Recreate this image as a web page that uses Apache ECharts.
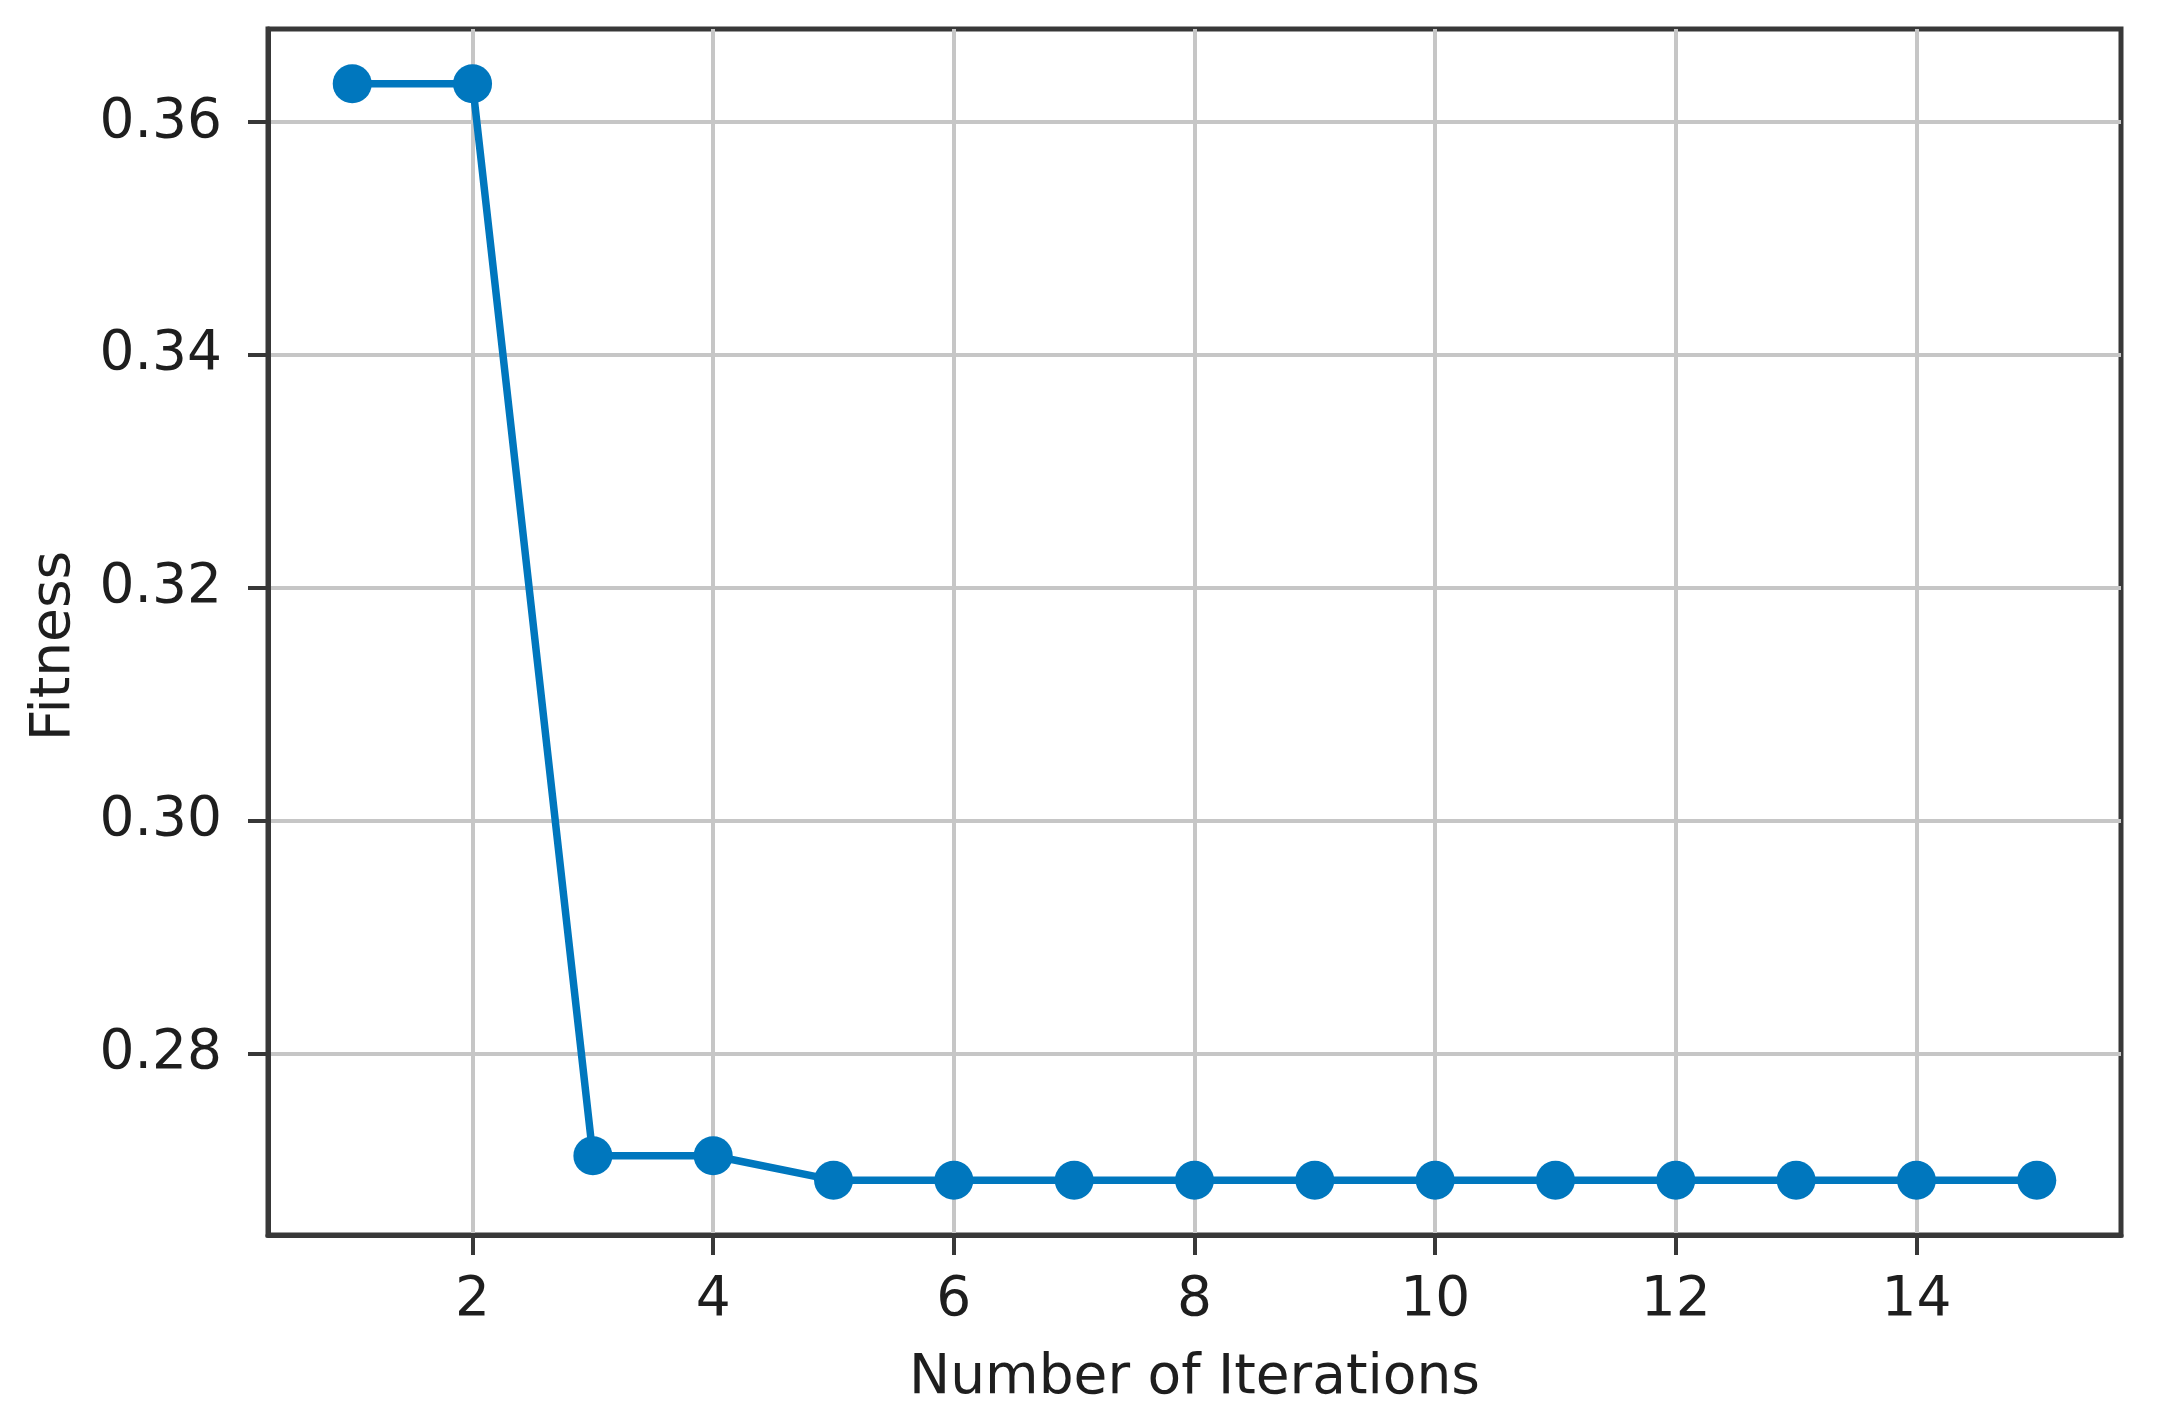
<!DOCTYPE html>
<html>
<head>
<meta charset="utf-8">
<script src="https://cdn.jsdelivr.net/npm/echarts@6/dist/echarts.min.js"></script>
<style>
html,body{margin:0;padding:0;background:#fff;}
#chart{width:2159px;height:1425px;}
</style>
</head>
<body>
<div id="chart"></div>
<script>
// Data
const iterations = [1,2,3,4,5,6,7,8,9,10,11,12,13,14,15];
const fitness = [0.3633,0.3633,0.2712,0.2712,0.2691,0.2691,0.2691,0.2691,0.2691,0.2691,0.2691,0.2691,0.2691,0.2691,0.2691];
const xTicks = [2,4,6,8,10,12,14];
const yTicks = [0.28,0.30,0.32,0.34,0.36];

const seriesData = iterations.map((x,i)=>[x, fitness[i]]);

// matplotlib-style 5% margins
const xr = iterations[iterations.length-1]-iterations[0];
const xMin = iterations[0]-0.05*xr, xMax = iterations[iterations.length-1]+0.05*xr;
const yMaxV = Math.max(...fitness), yMinV = Math.min(...fitness);
const yr = yMaxV - yMinV;
const yMin = yMinV-0.05*yr, yMax = yMaxV+0.05*yr;

const font = 'DejaVu Sans';
const textColor = '#1e1e1e';
const spineColor = '#383838';
const gridColor = '#c6c6c6';

const chart = echarts.init(document.getElementById('chart'), null, {renderer:'canvas'});
chart.setOption({
  animation:false,
  backgroundColor:'#ffffff',
  grid:{left:268, right:38, top:29, bottom:190, show:true, borderColor:spineColor, borderWidth:5, backgroundColor:'transparent'},
  xAxis:{
    type:'value', min:xMin, max:xMax,
    name:'Number of Iterations', nameLocation:'middle', nameGap:116,
    nameTextStyle:{fontFamily:font, fontSize:55, color:textColor},
    axisLine:{show:true, onZero:false, lineStyle:{color:spineColor, width:5}},
    axisTick:{show:true, length:20, lineStyle:{color:spineColor, width:4}, customValues:xTicks},
    axisLabel:{fontFamily:font, fontSize:55, color:textColor, margin:38, customValues:xTicks, formatter:v=>String(v)},
    splitLine:{show:true, lineStyle:{color:gridColor, width:4}}
  },
  yAxis:{
    type:'value', min:yMin, max:yMax,
    name:'Fitness', nameLocation:'middle', nameRotate:90, nameGap:186,
    nameTextStyle:{fontFamily:font, fontSize:55, color:textColor, padding:[0,28,0,0]},
    axisLine:{show:true, onZero:false, lineStyle:{color:spineColor, width:5}},
    axisTick:{show:true, length:20, lineStyle:{color:spineColor, width:4}, customValues:yTicks},
    axisLabel:{fontFamily:font, fontSize:55, color:textColor, margin:46, customValues:yTicks, formatter:v=>v.toFixed(2)},
    splitLine:{show:true, lineStyle:{color:gridColor, width:4}}
  },
  series:[{
    type:'line', data:seriesData,
    symbol:'circle', symbolSize:39, showSymbol:true,
    lineStyle:{color:'#0077BE', width:7.5},
    itemStyle:{color:'#0077BE'},
    z:3
  }]
});
</script>
</body>
</html>
